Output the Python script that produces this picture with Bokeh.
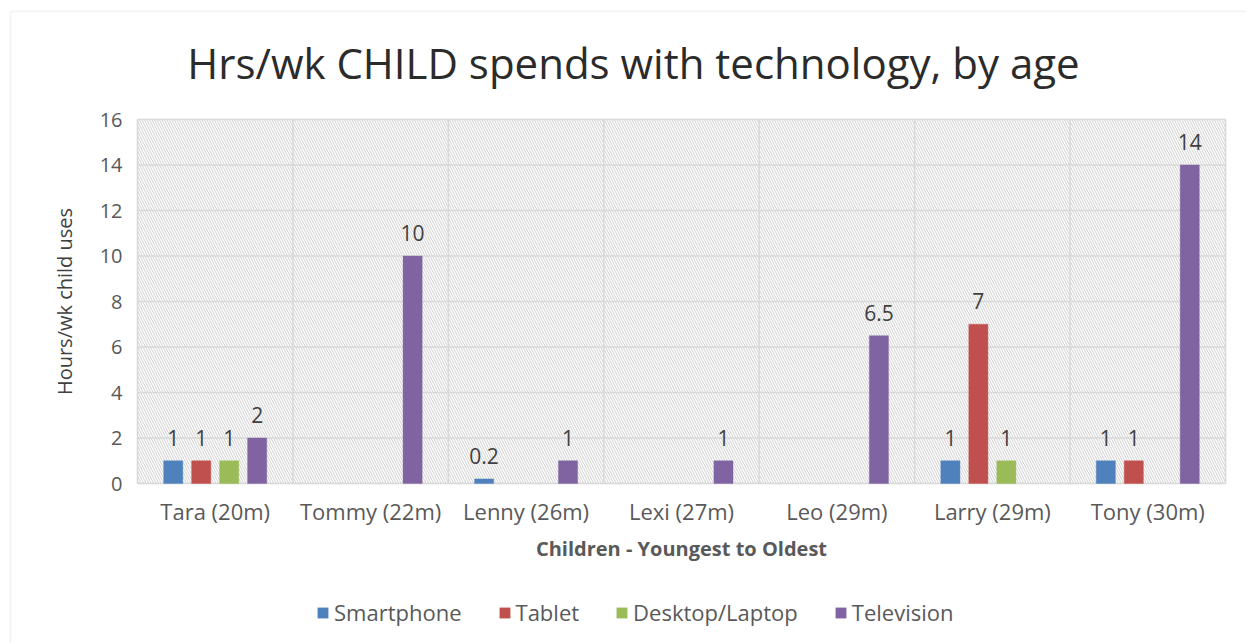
import math
from bokeh.plotting import figure
from bokeh.models import (Range1d, Legend, LegendItem, Label,
                          BoxAnnotation, ColumnDataSource)
from bokeh.transform import dodge
from bokeh.core.properties import value
from bokeh.embed import file_html
from bokeh.resources import INLINE

nan = float("nan")

# ---------------- data ----------------
children = ["Tara (20m)", "Tommy (22m)", "Lenny (26m)", "Lexi (27m)",
            "Leo (29m)", "Larry (29m)", "Tony (30m)"]
series_names = ["Smartphone", "Tablet", "Desktop/Laptop", "Television"]
smartphone = [1, nan, 0.2, nan, nan, 1, 1]
tablet = [1, nan, nan, nan, nan, 7, 1]
desktop_laptop = [1, nan, nan, nan, nan, 1, nan]
television = [2, 10, 1, 1, 6.5, nan, 14]
y_ticks = [0, 2, 4, 6, 8, 10, 12, 14, 16]
title_text = "Hrs/wk CHILD spends with technology, by age"
x_title = "Children - Youngest to Oldest"
y_title = "Hours/wk child uses"

# ---------------- style / layout ----------------
colors = ["#4F81BD", "#C0504D", "#9BBB59", "#8064A2"]
offsets = [-0.27, -0.09, 0.09, 0.27]
bar_w = 0.123
FONT = "Open Sans"
W, H = 1246, 643
PL, PR, PT, PB = 137, 1225, 119, 483          # plot-area box in pixels
n = len(children)
ymax = y_ticks[-1]
ux = (PR - PL) / n                              # px per category
uy = (PB - PT) / ymax                           # px per hour


def dx(px):
    return (px - PL) / ux


def dy(py):
    return (PB - py) / uy


xc = [i + 0.5 for i in range(n)]
bounds = list(range(n + 1))

p = figure(width=W, height=H, output_backend="svg", toolbar_location=None,
           x_range=Range1d(dx(0), dx(W)), y_range=Range1d(dy(H), dy(0)),
           x_axis_type=None, y_axis_type=None,
           min_border_left=0, min_border_right=0, min_border_top=0,
           min_border_bottom=0)
p.background_fill_color = "white"
p.border_fill_color = "white"
p.outline_line_color = None
p.xgrid.visible = False
p.ygrid.visible = False

# outer chart border
p.add_layout(BoxAnnotation(left=dx(10), right=dx(W + 50), top=dy(11),
                           bottom=dy(H + 50), fill_alpha=0,
                           line_color="#d9d9d9", line_width=2,
                           level="image"))
# hatched plot area
p.add_layout(BoxAnnotation(left=0, right=n, bottom=0, top=ymax,
                           fill_color="white", fill_alpha=1.0,
                           line_color="#d9d9d9", line_width=1.5,
                           hatch_pattern="\\", hatch_color="#cfcfcf",
                           hatch_scale=5, hatch_weight=1, level="image"))

# grid lines
grid_col = "#d9d9d9"
p.segment(x0=0, x1=n, y0=y_ticks, y1=y_ticks, line_color=grid_col,
          line_width=1.5)
p.segment(x0=bounds, x1=bounds, y0=0, y1=ymax, line_color=grid_col,
          line_width=1.5)

# tick labels
p.text(x=0, y=y_ticks, text=[str(t) for t in y_ticks], x_offset=-15,
       text_align="right", text_baseline="middle", text_font=value(FONT),
       text_font_size="20px", text_color="#595959")
p.text(x=xc, y=0, text=children, y_offset=27, text_align="center",
       text_baseline="middle", text_font=value(FONT), text_font_size="22px",
       text_color="#595959")

# bars + data labels
all_series = [smartphone, tablet, desktop_laptop, television]
items = []
for name, vals, col, off in zip(series_names, all_series, colors, offsets):
    src = ColumnDataSource(dict(xc=xc, top=vals))
    r = p.vbar(x=dodge("xc", off), top="top", width=bar_w, source=src,
               fill_color=col, line_color=col, line_alpha=0.4)
    items.append(LegendItem(label=name, renderers=[r]))
    lx = [x for x, v in zip(xc, vals) if not math.isnan(v)]
    lv = [v for v in vals if not math.isnan(v)]
    lt = [f"{v:g}" for v in lv]
    lsrc = ColumnDataSource(dict(xc=lx, v=lv, t=lt))
    p.text(x=dodge("xc", off), y="v", text="t", source=lsrc,
           text_align="center", text_baseline="alphabetic", y_offset=-23,
           text_font=value(FONT), text_font_size="21px", text_color="#404040")

# titles
p.add_layout(Label(x=dx(633), y=dy(62), text=title_text, text_align="center",
                   text_baseline="middle", text_font=FONT,
                   text_font_size="42px", text_color="#2b2b2b"))
p.add_layout(Label(x=n / 2, y=dy(548), text=x_title, text_align="center",
                   text_baseline="middle", text_font=FONT,
                   text_font_size="20px", text_font_style="bold",
                   text_color="#595959"))
p.add_layout(Label(x=dx(64), y=ymax / 2, text=y_title, angle=math.pi / 2,
                   text_align="center", text_baseline="middle",
                   text_font=FONT, text_font_size="20px",
                   text_color="#404040"))

legend = Legend(items=items, orientation="horizontal", location=(316, 16),
                glyph_width=13, glyph_height=13, label_standoff=5, spacing=36,
                padding=0, margin=0, border_line_color=None,
                background_fill_alpha=0,
                label_text_font=FONT, label_text_font_size="22px",
                label_text_color="#595959")
p.add_layout(legend)

open("out.html", "w").write(file_html(p, INLINE))
